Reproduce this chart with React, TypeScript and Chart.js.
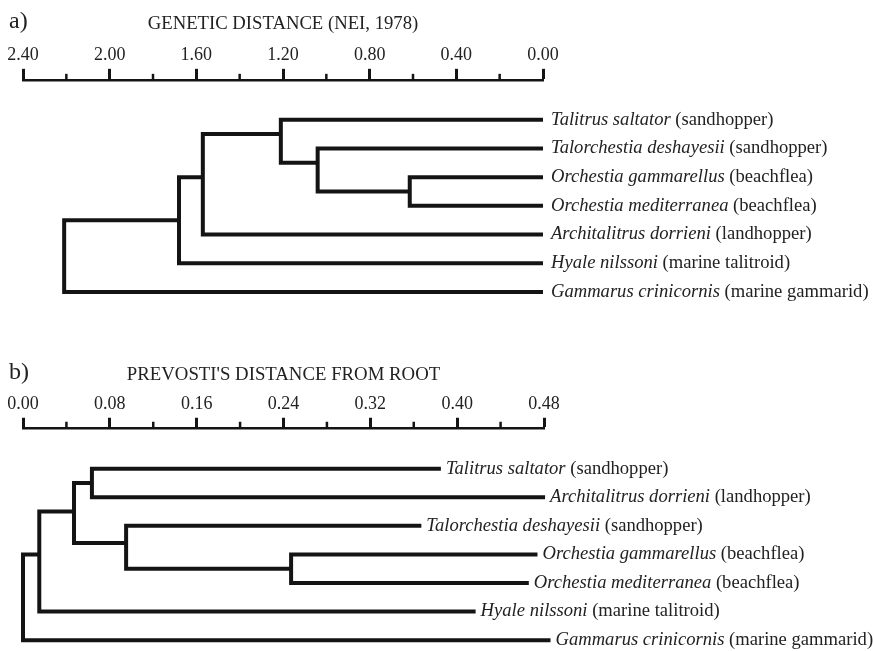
import React, { useEffect, useRef } from "react";
import { Chart, registerables } from "chart.js";

Chart.register(...registerables);

const SERIF = '"Liberation Serif", "Times New Roman", serif';
const INK = "#141414";
const TEXT = "#222222";

// ---------- Panel a: Nei genetic distance ----------
const panelLabelA = "a)";
const axisTitleA = "GENETIC DISTANCE (NEI, 1978)";
const leafNamesA = [
  "Talitrus saltator",
  "Talorchestia deshayesii",
  "Orchestia gammarellus",
  "Orchestia mediterranea",
  "Architalitrus dorrieni",
  "Hyale nilssoni",
  "Gammarus crinicornis",
];
const leafCommonA = [
  "(sandhopper)",
  "(sandhopper)",
  "(beachflea)",
  "(beachflea)",
  "(landhopper)",
  "(marine talitroid)",
  "(marine gammarid)",
];
const leafDistA = [0, 0, 0, 0, 0, 0, 0];
const nodeDistA = [0.615, 1.04, 1.21, 1.57, 1.68, 2.21];
const nodeRowA = [2.5, 1.5, 0.5, 2.0, 3.5, 4.75];
const nodeKidsA = [
  ["L2", "L3"],
  ["L1", "N0"],
  ["L0", "N1"],
  ["N2", "L4"],
  ["N3", "L5"],
  ["N4", "L6"],
];
const majorTicksA = [0, 0.4, 0.8, 1.2, 1.6, 2.0, 2.4];
const minorTicksA = [0.2, 0.6, 1.0, 1.4, 1.8, 2.2];

// ---------- Panel b: Prevosti distance from root ----------
const panelLabelB = "b)";
const axisTitleB = "PREVOSTI'S DISTANCE FROM ROOT";
const leafNamesB = [
  "Talitrus saltator",
  "Architalitrus dorrieni",
  "Talorchestia deshayesii",
  "Orchestia gammarellus",
  "Orchestia mediterranea",
  "Hyale nilssoni",
  "Gammarus crinicornis",
];
const leafCommonB = [
  "(sandhopper)",
  "(landhopper)",
  "(sandhopper)",
  "(beachflea)",
  "(beachflea)",
  "(marine talitroid)",
  "(marine gammarid)",
];
const leafDistB = [0.385, 0.481, 0.367, 0.474, 0.466, 0.417, 0.486];
const nodeDistB = [0.247, 0.095, 0.0635, 0.047, 0.015, 0.0];
const nodeRowB = [3.5, 2.6, 0.5, 1.5, 3.0, 4.5];
const nodeKidsB = [
  ["L3", "L4"],
  ["L2", "N0"],
  ["L0", "L1"],
  ["N2", "N1"],
  ["N3", "L5"],
  ["N4", "L6"],
];
const majorTicksB = [0, 0.08, 0.16, 0.24, 0.32, 0.4, 0.48];
const minorTicksB = [0.04, 0.12, 0.2, 0.28, 0.36, 0.44];

type PanelCfg = {
  width: number;
  height: number;
  panelLabel: string;
  panelLabelY: number;
  title: string;
  titleSize: number;
  titlePadBottom: number;
  leafNames: string[];
  leafCommon: string[];
  leafDist: number[];
  nodeDist: number[];
  nodeRow: number[];
  nodeKids: string[][];
  majorTicks: number[];
  minorTicks: number[];
  xMin: number;
  xMax: number;
  reverse: boolean;
  yMin: number;
  yMax: number;
  padding: { left: number; right: number; top: number; bottom: number };
  tickLength: number;
  labelGap: number;
};

function buildPaths(cfg: PanelCfg) {
  const pos = (id: string) => {
    const k = Number(id.slice(1));
    return id[0] === "L"
      ? { x: cfg.leafDist[k], y: k }
      : { x: cfg.nodeDist[k], y: cfg.nodeRow[k] };
  };
  return cfg.nodeKids.map(([a, b], i) => {
    const p = pos(a);
    const q = pos(b);
    const x = cfg.nodeDist[i];
    return {
      data: [
        { x: p.x, y: p.y },
        { x, y: p.y },
        { x, y: q.y },
        { x: q.x, y: q.y },
      ],
      showLine: true,
      borderColor: INK,
      borderWidth: 4,
      borderCapStyle: "butt" as const,
      borderJoinStyle: "miter" as const,
      pointRadius: 0,
      pointHoverRadius: 0,
      tension: 0,
      clip: false as const,
    };
  });
}

function Dendrogram({ cfg }: { cfg: PanelCfg }) {
  const ref = useRef<HTMLCanvasElement | null>(null);

  useEffect(() => {
    if (!ref.current) return;

    const decor = {
      id: "decor",
      afterDraw(chart: any) {
        const ctx = chart.ctx as CanvasRenderingContext2D;
        const xs = chart.scales.x;
        const ys = chart.scales.y;
        ctx.save();
        // minor ticks
        ctx.strokeStyle = INK;
        ctx.lineWidth = 2.5;
        const base = xs.bottom;
        cfg.minorTicks.forEach((v) => {
          const px = xs.getPixelForValue(v);
          ctx.beginPath();
          ctx.moveTo(px, base);
          ctx.lineTo(px, base - 6);
          ctx.stroke();
        });
        // panel label
        ctx.fillStyle = TEXT;
        ctx.textBaseline = "middle";
        ctx.textAlign = "left";
        ctx.font = `24px ${SERIF}`;
        ctx.fillText(cfg.panelLabel, 9, cfg.panelLabelY);
        // leaf labels
        const italic = `italic 18.6px ${SERIF}`;
        const roman = `18.6px ${SERIF}`;
        cfg.leafNames.forEach((name, i) => {
          const x0 = xs.getPixelForValue(cfg.leafDist[i]) + cfg.labelGap;
          const y0 = ys.getPixelForValue(i);
          ctx.font = italic;
          ctx.fillText(name, x0, y0);
          const w = ctx.measureText(name + " ").width;
          ctx.font = roman;
          ctx.fillText(cfg.leafCommon[i], x0 + w, y0);
        });
        ctx.restore();
      },
    };

    const chart = new Chart(ref.current, {
      type: "scatter",
      data: { datasets: buildPaths(cfg) as any },
      options: {
        animation: false,
        responsive: false,
        events: [],
        layout: { padding: cfg.padding },
        plugins: {
          legend: { display: false },
          tooltip: { enabled: false },
          title: { display: false },
        },
        scales: {
          x: {
            type: "linear",
            position: "top",
            min: cfg.xMin,
            max: cfg.xMax,
            reverse: cfg.reverse,
            afterBuildTicks: (s: any) => {
              s.ticks = cfg.majorTicks.map((v) => ({ value: v }));
            },
            ticks: {
              callback: (v: any) => Number(v).toFixed(2),
              font: { family: SERIF, size: 18 },
              color: TEXT,
              padding: 3,
              maxRotation: 0,
              autoSkip: false,
            },
            grid: {
              drawOnChartArea: false,
              drawTicks: true,
              tickLength: cfg.tickLength,
              tickWidth: 3,
              tickColor: INK,
              color: INK,
            },
            border: { display: true, color: INK, width: 2.5 },
            title: {
              display: true,
              text: cfg.title,
              font: { family: SERIF, size: cfg.titleSize },
              color: TEXT,
              padding: { top: 0, bottom: cfg.titlePadBottom },
            },
          },
          y: {
            type: "linear",
            display: false,
            reverse: true,
            min: cfg.yMin,
            max: cfg.yMax,
          },
        },
      },
      plugins: [decor],
    });
    return () => chart.destroy();
  }, []);

  return (
    <canvas
      ref={ref}
      width={cfg.width}
      height={cfg.height}
      style={{ display: "block", width: cfg.width, height: cfg.height }}
    />
  );
}

const cfgA: PanelCfg = {
  width: 874,
  height: 340,
  panelLabel: panelLabelA,
  panelLabelY: 22,
  title: axisTitleA,
  titleSize: 18.7,
  titlePadBottom: 6.1,
  leafNames: leafNamesA,
  leafCommon: leafCommonA,
  leafDist: leafDistA,
  nodeDist: nodeDistA,
  nodeRow: nodeRowA,
  nodeKids: nodeKidsA,
  majorTicks: majorTicksA,
  minorTicks: minorTicksA,
  xMin: 0,
  xMax: 2.4,
  reverse: true,
  yMin: -1.387,
  yMax: 7.3,
  padding: { left: 23, right: 331, top: 12.7, bottom: 10.6 },
  tickLength: 11,
  labelGap: 8,
};

const cfgB: PanelCfg = {
  width: 874,
  height: 311,
  panelLabel: panelLabelB,
  panelLabelY: 33,
  title: axisTitleB,
  titleSize: 18.8,
  titlePadBottom: 3.9,
  leafNames: leafNamesB,
  leafCommon: leafCommonB,
  leafDist: leafDistB,
  nodeDist: nodeDistB,
  nodeRow: nodeRowB,
  nodeKids: nodeKidsB,
  majorTicks: majorTicksB,
  minorTicks: minorTicksB,
  xMin: 0,
  xMax: 0.48,
  reverse: false,
  yMin: -1.43,
  yMax: 6.24,
  padding: { left: 23, right: 330, top: 23.7, bottom: 4 },
  tickLength: 10,
  labelGap: 5,
};

export default function App() {
  return (
    <div
      style={{
        position: "fixed",
        left: 0,
        top: 0,
        width: 874,
        height: 651,
        background: "#ffffff",
        overflow: "hidden",
      }}
    >
      <Dendrogram cfg={cfgA} />
      <Dendrogram cfg={cfgB} />
    </div>
  );
}
